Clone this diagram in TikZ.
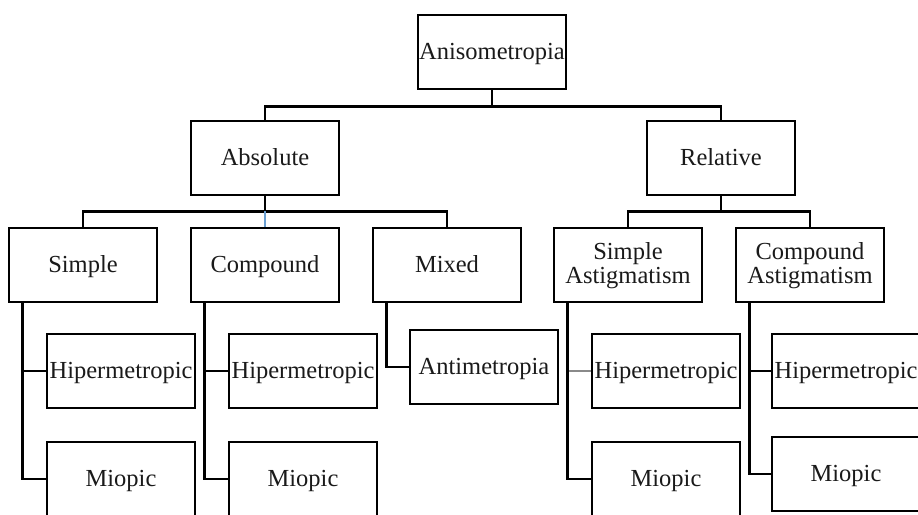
\documentclass[tikz,border=0pt]{standalone}
\usepackage{fontspec}
\setmainfont{Liberation Serif}
\usepackage{xcolor}
\usepackage{tikz}
\usetikzlibrary{calc}
\definecolor{bg}{HTML}{FFFFFF}
\definecolor{ink}{HTML}{000000}
\definecolor{text}{HTML}{1A1A1A}
\definecolor{steel}{HTML}{6A9FD2}
\definecolor{muted}{HTML}{8A8A8A}
\tikzset{
  cell/.style={
    draw=ink,
    line width=2.8pt,
    fill=bg,
    minimum width=148pt,
    minimum height=74pt,
    inner sep=1pt,
    text height=16pt,
    text depth=2pt,
    align=center,
    text=text,
    font=\fontsize{24.5}{24}\selectfont
  },
  twoline/.style={cell, text height=38pt},
  wire/.style={draw=ink, line width=2.8pt},
  wireblue/.style={draw=steel, line width=2.8pt},
  wiregray/.style={draw=muted, line width=2.8pt}
}

\begin{document}
\begin{tikzpicture}[x=1pt, y=-1pt]
  \useasboundingbox (0,0) rectangle (918,514);
  \clip (0,0) rectangle (918,514);

  % top of the tree
  \node[cell] (aniso) at (492,52) {Anisometropia};
  \node[cell] (absol) at (265,158) {Absolute};
  \node[cell] (relat) at (721,158) {Relative};

  \node[cell] (simp) at (83,265)  {Simple};
  \node[cell] (comp) at (265,265) {Compound};
  \node[cell] (mixd) at (447,265) {Mixed};
  \node[twoline] (sast) at (628,265) {Simple\\Astigmatism};
  \node[twoline] (cast) at (810,265) {Compound\\Astigmatism};

  % leaves
  \node[cell] (simphip) at (121,371) {Hipermetropic};
  \node[cell] (simpmio) at (121,479) {Miopic};
  \node[cell] (comphip) at (303,371) {Hipermetropic};
  \node[cell] (compmio) at (303,479) {Miopic};
  \node[cell] (anti)    at (484,367) {Antimetropia};
  \node[cell] (sasthip) at (666,371) {Hipermetropic};
  \node[cell] (sastmio) at (666,479) {Miopic};
  \node[cell] (casthip) at (846,371) {Hipermetropic};
  \node[cell] (castmio) at (846,474) {Miopic};

  \draw[wire] (aniso.south) -- ++(0,16) coordinate (topj);
  \draw[wire] (absol.north) |- (topj) -| (relat.north);

  \draw[wire] (absol.south) -- ++(0,15) coordinate (absj);
  \draw[wire] (simp.north) |- (absj) -| (mixd.north);
  \draw[wireblue] (absj) -- (comp.north);

  \draw[wire] (relat.south) -- ++(0,15) coordinate (relj);
  \draw[wire] (sast.north) |- (relj) -| (cast.north);

  % elbows down the left side
  \draw[wire] ($(simp.south west)+(15,0)$) |- (simphip.west);
  \draw[wire] ($(simp.south west)+(15,0)$) |- (simpmio.west);
  \draw[wire] ($(comp.south west)+(15,0)$) |- (comphip.west);
  \draw[wire] ($(comp.south west)+(15,0)$) |- (compmio.west);
  \draw[wire] ($(mixd.south west)+(15,0)$) |- (anti.west);
  \draw[wiregray] ($(sast.south west)+(15,0)$) |- (sasthip.west);
  \draw[wire] ($(sast.south west)+(15,0)$) |- (sastmio.west);
  \draw[wire] ($(cast.south west)+(15,0)$) |- (casthip.west);
  \draw[wire] ($(cast.south west)+(15,0)$) |- (castmio.west);
\end{tikzpicture}
\end{document}
